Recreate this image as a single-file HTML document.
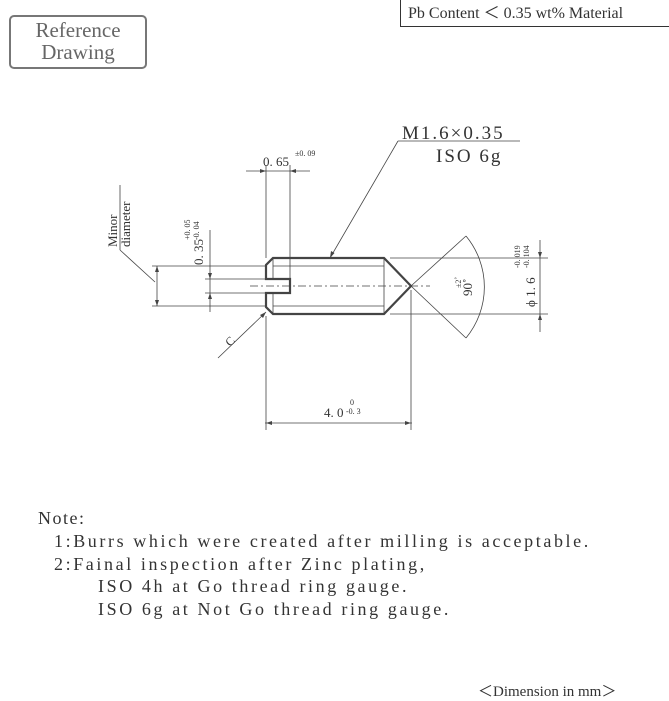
<!DOCTYPE html>
<html><head><style>
body{margin:0;width:669px;height:700px;background:#fff;position:relative;overflow:hidden;font-family:"Liberation Serif",serif;color:#333}
.abs{position:absolute;white-space:nowrap}
.n{position:absolute;white-space:nowrap;font-size:18px;letter-spacing:2.6px;line-height:22.5px}
</style></head><body>
<div class="abs" style="left:9px;top:15px;width:134px;height:48px;border:2px solid #777;border-radius:5px;color:#666;font-size:21px;line-height:22px;text-align:center;padding-top:2px">Reference<br>Drawing</div>
<div class="abs" style="left:400px;top:-2px;width:275px;height:27px;border:1.5px solid #333;font-size:16px;line-height:30px;padding-left:7px">Pb Content ＜ 0.35 wt% Material</div>
<svg class="abs" style="left:0;top:0" width="669" height="700" viewBox="0 0 669 700">
<g stroke="#444" stroke-width="0.8" fill="none">
<path d="M273 258 H384 L411 286 L384 314 H273 L266 307 V293 H290 V279 H266 V265 Z" stroke-width="2.2"/>
<line x1="273" y1="258" x2="273" y2="279"/><line x1="273" y1="293" x2="273" y2="314"/>
<line x1="384" y1="258" x2="384" y2="314"/>
<line x1="273" y1="266" x2="384" y2="266"/><line x1="273" y1="306" x2="384" y2="306"/>
<line x1="250" y1="286" x2="430" y2="286" stroke-dasharray="8,3,2,3"/>
<line x1="266" y1="165" x2="266" y2="258"/><line x1="290" y1="165" x2="290" y2="279"/>
<line x1="246" y1="171" x2="310" y2="171"/>
<line x1="152" y1="266" x2="266" y2="266"/><line x1="152" y1="306" x2="266" y2="306"/>
<line x1="157" y1="266" x2="157" y2="306"/>
<line x1="155" y1="282" x2="120" y2="250"/><line x1="120" y1="250" x2="120" y2="185"/>
<line x1="205" y1="279" x2="266" y2="279"/><line x1="205" y1="293" x2="266" y2="293"/>
<line x1="210" y1="230" x2="210" y2="312"/>
<line x1="266" y1="316" x2="266" y2="430"/><line x1="411" y1="290" x2="411" y2="430"/>
<line x1="265" y1="423" x2="412" y2="423"/>
<line x1="390" y1="258" x2="548" y2="258"/><line x1="390" y1="314" x2="548" y2="314"/>
<line x1="540" y1="240" x2="540" y2="332"/>
<line x1="411" y1="286" x2="466" y2="236"/><line x1="411" y1="286" x2="466" y2="338"/>
<path d="M466 236 A80 80 0 0 1 466 338"/>
<line x1="330" y1="258" x2="398" y2="141"/><line x1="398" y1="141" x2="520" y2="141"/>
<line x1="266" y1="312" x2="218" y2="358"/>
</g>
<g fill="#444">
<path d="M266 171 l-6 -2 v4z"/><path d="M290 171 l6 -2 v4z"/>
<path d="M157 266 l-2 6 h4z"/><path d="M157 306 l-2 -6 h4z"/>
<path d="M210 279 l-2 -6 h4z"/><path d="M210 293 l-2 6 h4z"/>
<path d="M266 423 l6 -2 v4z"/><path d="M411 423 l-6 -2 v4z"/>
<path d="M540 258 l-2 -6 h4z"/><path d="M540 314 l-2 6 h4z"/>
<path d="M330 258 l1 -7 l3.5 2z"/><path d="M266 312 l-3 6 l-3 -3z"/>
</g>
<g font-family="Liberation Serif,serif" fill="#333">
<text x="402" y="139" font-size="19" letter-spacing="2">M1.6×0.35</text>
<text x="436" y="162" font-size="19" letter-spacing="2">ISO 6g</text>
<text x="263" y="166" font-size="13">0. 65</text><text x="295" y="156" font-size="8">±0. 09</text>
<text x="324" y="417" font-size="13">4. 0</text><text x="350" y="405" font-size="8">0</text><text x="346" y="414" font-size="8">-0. 3</text>
<text transform="translate(203,265) rotate(-90)" font-size="13">0. 35</text>
<text transform="translate(190,240) rotate(-90)" font-size="8">+0. 05</text>
<text transform="translate(199,240) rotate(-90)" font-size="8">-0. 04</text>
<text transform="translate(117,247) rotate(-90)" font-size="13">Minor</text>
<text transform="translate(130,247) rotate(-90)" font-size="13">diameter</text>
<text transform="translate(535,307) rotate(-90)" font-size="13">ϕ 1. 6</text>
<text transform="translate(520,268) rotate(-90)" font-size="8">-0. 019</text>
<text transform="translate(529,268) rotate(-90)" font-size="8">-0. 104</text>
<text transform="translate(472,296) rotate(-90)" font-size="13">90˚</text>
<text transform="translate(461,288) rotate(-90)" font-size="8">±2˚</text>
<text transform="translate(230,347) rotate(-45)" font-size="12">C</text>
</g>
</svg>
<div class="n" style="left:38px;top:507px;letter-spacing:1.5px">Note:</div>
<div class="n" style="left:54px;top:530px">1:Burrs which were created after milling is acceptable.<br>2:Fainal inspection after Zinc plating,</div>
<div class="n" style="left:98px;top:575px">ISO 4h at Go thread ring gauge.<br>ISO 6g at Not Go thread ring gauge.</div>
<div class="abs" style="left:478px;top:680px;font-size:15px">＜Dimension in mm＞</div>
</body></html>
